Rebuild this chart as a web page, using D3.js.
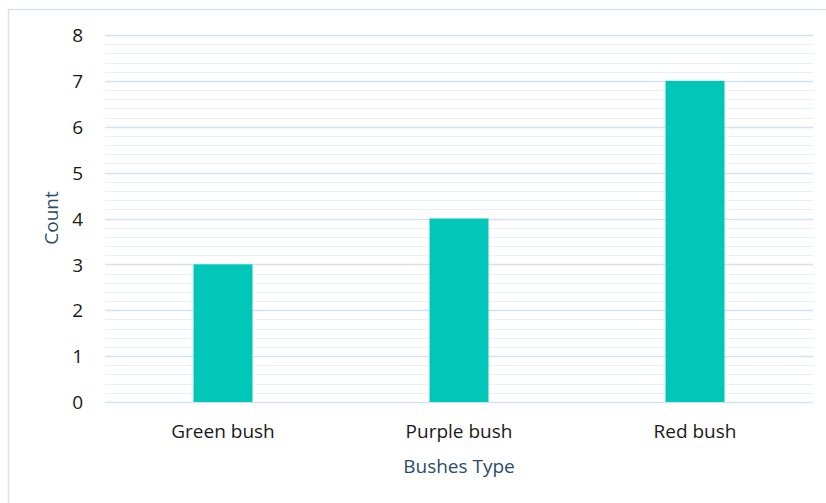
<!DOCTYPE html>
<html><head><meta charset="utf-8">
<script src="https://cdn.jsdelivr.net/npm/d3@7"></script>
<style>body{margin:0;background:#fff}svg{display:block}</style>
</head><body>
<svg id="c" width="826" height="503"></svg>
<script>
const categories = ["Green bush", "Purple bush", "Red bush"];
const counts = [3, 4, 7];
const yTicks = [0, 1, 2, 3, 4, 5, 6, 7, 8];
const xTitle = "Bushes Type";
const yTitle = "Count";

const svg = d3.select("#c");
const m = {l:105, r:13, t:35, b:101};
const W = 826, H = 503;
svg.append("rect").attr("x",8.5).attr("y",9.5).attr("width",W).attr("height",H)
  .attr("fill","#fff").attr("stroke","#d5e4f1").attr("stroke-width",1.5);

const x = d3.scaleBand().domain(categories).range([m.l, W-m.r]).paddingInner(0.75).paddingOuter(0.375);
const y = d3.scaleLinear().domain([0, 8]).range([H-m.b, m.t]);

const minor = d3.range(0, 8.001, 0.2).filter(v => Math.abs(v - Math.round(v)) > 1e-6);
svg.append("g").selectAll("line").data(minor).join("line")
  .attr("x1", m.l).attr("x2", W-m.r).attr("y1", d=>Math.round(y(d))+0.5).attr("y2", d=>Math.round(y(d))+0.5)
  .attr("stroke","#e8f0f8").attr("stroke-width",1);
svg.append("g").selectAll("line").data(yTicks).join("line")
  .attr("x1", m.l).attr("x2", W-m.r).attr("y1", d=>Math.round(y(d))+0.5).attr("y2", d=>Math.round(y(d))+0.5)
  .attr("stroke","#d2e3f1").attr("stroke-width",1.5);

svg.append("g").selectAll("rect").data(counts).join("rect")
  .attr("x",(d,i)=>x(categories[i])).attr("width",x.bandwidth())
  .attr("y",d=>y(d)).attr("height",d=>y(0)-y(d)).attr("fill","#00c7b7");

const font = "'Open Sans', sans-serif";
const yAxis = d3.axisLeft(y).tickValues(yTicks).tickSize(0).tickPadding(0);
const ga = svg.append("g").attr("transform",`translate(83,0)`).call(yAxis);
ga.select(".domain").remove();
ga.selectAll("text").attr("font-family",font).attr("font-size",19).attr("fill","#1a1a1a").attr("dy","0.35em");

const xAxis = d3.axisBottom(x).tickSize(0).tickPadding(0);
const gx = svg.append("g").attr("transform",`translate(0,${H-m.b+22})`).call(xAxis);
gx.select(".domain").remove();
gx.selectAll("text").attr("font-family",font).attr("font-size",19).attr("fill","#1a1a1a");

svg.append("text").attr("x",(m.l+W-m.r)/2).attr("y",473).attr("text-anchor","middle")
  .attr("font-family",font).attr("font-size",19).attr("fill","#2a4d69").text(xTitle);
svg.append("text").attr("transform",`translate(58,218) rotate(-90)`).attr("text-anchor","middle")
  .attr("font-family",font).attr("font-size",19).attr("fill","#2a4d69").text(yTitle);
</script>
</body></html>
